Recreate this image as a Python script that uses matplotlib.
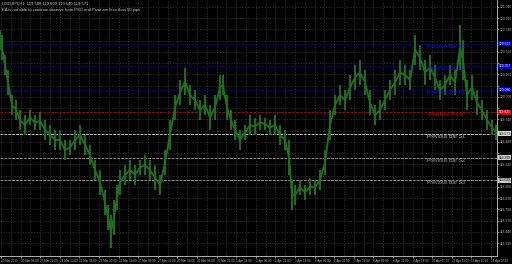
import matplotlib
matplotlib.use("Agg")
import matplotlib.pyplot as plt
import numpy as np

plt.rcParams["font.family"] = ["Liberation Sans", "DejaVu Sans"]

# ---- data ----
bar_x = [0, 2, 5, 8, 12, 16, 20, 25, 30, 35, 40, 45, 50, 55, 60, 65, 70, 75, 80, 85, 90, 95, 100, 105, 108, 111,
         114, 117, 120, 125, 130, 135, 140, 145, 150, 155, 160, 165, 170, 175, 180, 185, 190, 195, 200, 205, 210,
         215, 220, 223, 227, 231, 235, 240, 245, 250, 255, 260, 265, 270, 275, 280, 285, 289, 292, 295, 300, 305,
         310, 315, 320, 325, 330, 335, 340, 345, 350, 355, 360, 365, 370, 375, 380, 385, 390, 395, 400, 405, 410,
         415, 420, 425, 430, 435, 440, 445, 450, 455, 460, 463, 467, 472, 477, 482, 487, 492, 496]
bar_low_px = [50, 60, 75, 95, 115, 120, 130, 135, 125, 130, 130, 140, 145, 150, 150, 160, 155, 150, 145, 155, 165,
              180, 195, 215, 230, 248, 235, 210, 195, 185, 180, 185, 175, 175, 180, 190, 195, 175, 150, 120, 105, 95,
              105, 110, 120, 115, 130, 120, 100, 95, 120, 130, 140, 150, 140, 135, 135, 130, 130, 135, 135, 145, 150,
              175, 210, 205, 195, 200, 195, 195, 190, 175, 140, 115, 105, 110, 100, 90, 85, 95, 115, 125, 120, 110,
              100, 95, 85, 85, 90, 65, 70, 85, 80, 90, 100, 95, 85, 95, 70, 80, 110, 100, 115, 120, 130, 135, 140]
bar_high_px = [30, 35, 55, 70, 95, 100, 110, 115, 110, 115, 112, 120, 125, 130, 130, 140, 140, 130, 125, 135, 145,
               160, 170, 190, 205, 215, 200, 185, 170, 165, 160, 165, 160, 155, 160, 165, 175, 150, 120, 95, 80, 68,
               85, 90, 100, 95, 105, 95, 75, 75, 95, 110, 120, 130, 125, 115, 118, 115, 118, 120, 115, 125, 130,
               140, 180, 185, 180, 185, 178, 180, 170, 150, 110, 95, 85, 90, 75, 65, 60, 70, 90, 105, 100, 90,
               80, 70, 60, 65, 70, 35, 45, 60, 55, 65, 80, 75, 65, 70, 25, 40, 80, 75, 90, 100, 110, 120, 125]

# convert pixel reads to prices (price scale of the chart)
P_TOP = 121.12
P_PER_PX = 0.01156
bar_low = [round(P_TOP - v * P_PER_PX, 3) for v in bar_low_px]
bar_high = [round(P_TOP - v * P_PER_PX, 3) for v in bar_high_px]

level_names = ["Previous Bar R3", "Previous Bar R2", "Previous Bar R1", "Previous Pivot",
               "Previous Bar S1", "Previous Bar S2", "Previous Bar S3"]
level_prices = [120.617, 120.357, 120.080, 119.825, 119.571, 119.299, 119.039]
level_colors = ["#0000b0", "#0000b0", "#0000b0", "#b00000", "#bebebe", "#8c8c8c", "#8c8c8c"]
level_text_colors = ["#1818d8", "#1818d8", "#1818d8", "#e01010", "#b8b8b8", "#a0a0a0", "#a0a0a0"]
box_colors = ["#0000e0", "#0000e0", "#0000e0", "#e00000", "#d8d8d8", "#c8c8c8", "#c8c8c8"]

price_ticks = [121.040, 120.910, 120.780, 120.650, 120.520, 120.390, 120.260, 120.130, 120.000, 119.870,
               119.740, 119.610, 119.480, 119.350, 119.220, 119.090, 118.960, 118.830, 118.700, 118.570,
               118.440, 118.310]
time_labels = ["20 Mar 2015", "23 Mar 06:00", "23 Mar 22:00", "24 Mar 14:00", "25 Mar 06:00", "25 Mar 22:00",
               "26 Mar 14:00", "27 Mar 06:00", "27 Mar 22:00", "30 Mar 14:00", "31 Mar 06:00", "31 Mar 22:00",
               "1 Apr 14:00", "2 Apr 06:00", "2 Apr 22:00", "3 Apr 14:00", "6 Apr 06:00", "6 Apr 22:00",
               "7 Apr 14:00", "8 Apr 06:00", "8 Apr 22:00", "9 Apr 14:00", "10 Apr 07:00", "12 Apr 23:00",
               "13 Apr 15:00", "14 Apr 07:00"]
title_line1 = "USDJPY,H1  119.586 119.609 119.540 119.571"
title_line2 = "EA is not able to continue observe from PSO and Pivot are less than 50 pips"

# ---- figure ----
W, H = 512, 264
fig = plt.figure(figsize=(W / 100, H / 100), dpi=100, facecolor="black")
ax = fig.add_axes([0, 8 / H, 497 / W, 256 / H])
ax.set_facecolor("black")
ax.set_xlim(0, 497)
ax.set_ylim(P_TOP - 256 * P_PER_PX, P_TOP)

tick_x = [i * 19.6 + 1 for i in range(len(time_labels))]

# grid
for p in price_ticks:
    ax.axhline(p, color="#3c3c3c", lw=0.5, ls=(0, (2, 2)), zorder=1)
for i in range(2 * len(time_labels)):
    ax.axvline(i * 9.8 + 1, color="#3c3c3c", lw=0.5, ls=(0, (2, 2)), zorder=1)

# price bars (highs/lows)
ax.vlines(bar_x, bar_low, bar_high, color="#1f6f1f", lw=1.4, zorder=3)
ax.plot(bar_x, [(a + b) / 2 for a, b in zip(bar_low, bar_high)], color="#226f22", lw=1.4, zorder=3)

# levels
for name, p, c, tc in zip(level_names, level_prices, level_colors, level_text_colors):
    ax.axhline(p, color=c, lw=0.7, ls=(0, (3, 1)), zorder=2)
    ax.text(446, p - 0.03, name, color=tc, fontsize=3.8, ha="center", va="center", zorder=4)

for s in ["left", "top"]:
    ax.spines[s].set_visible(False)
for s in ["right", "bottom"]:
    ax.spines[s].set_color("#b0b0b0")
    ax.spines[s].set_linewidth(0.7)

ax.yaxis.tick_right()
ax.set_yticks(price_ticks)
# tick labels hidden where a level price box covers them (as in the terminal)
ax.set_yticklabels(["" if min(abs(p - q) for q in level_prices) < 0.06 else f"{p:.3f}" for p in price_ticks])
ax.tick_params(axis="y", colors="#b8b8b8", labelsize=2.4, length=1.5, width=0.5, pad=0.8)
ax.set_xticks(tick_x)
ax.set_xticklabels(time_labels)
ax.tick_params(axis="x", colors="#b8b8b8", labelsize=2.2, length=1.5, width=0.5, pad=0.8)
for lbl in ax.get_xticklabels():
    lbl.set_horizontalalignment("left")

# price boxes on axis
for p, c in zip(level_prices, box_colors):
    ax.annotate(f"{p:.3f}", xy=(1.0, p), xycoords=("axes fraction", "data"), xytext=(1.0, 0),
                textcoords="offset points", fontsize=2.4, va="center", ha="left",
                color="white" if c in ("#0000e0", "#e00000") else "black",
                bbox=dict(boxstyle="square,pad=0.15", fc=c, ec="none"), annotation_clip=False)

fig.text(2 / W, 1 - 4 / H, title_line1, color="#d0d0d0", fontsize=3.0, ha="left", va="center")
fig.text(2 / W, 1 - 10 / H, title_line2, color="#d0d0d0", fontsize=3.0, ha="left", va="center")

fig.savefig("out.png", dpi=100, facecolor="black")
